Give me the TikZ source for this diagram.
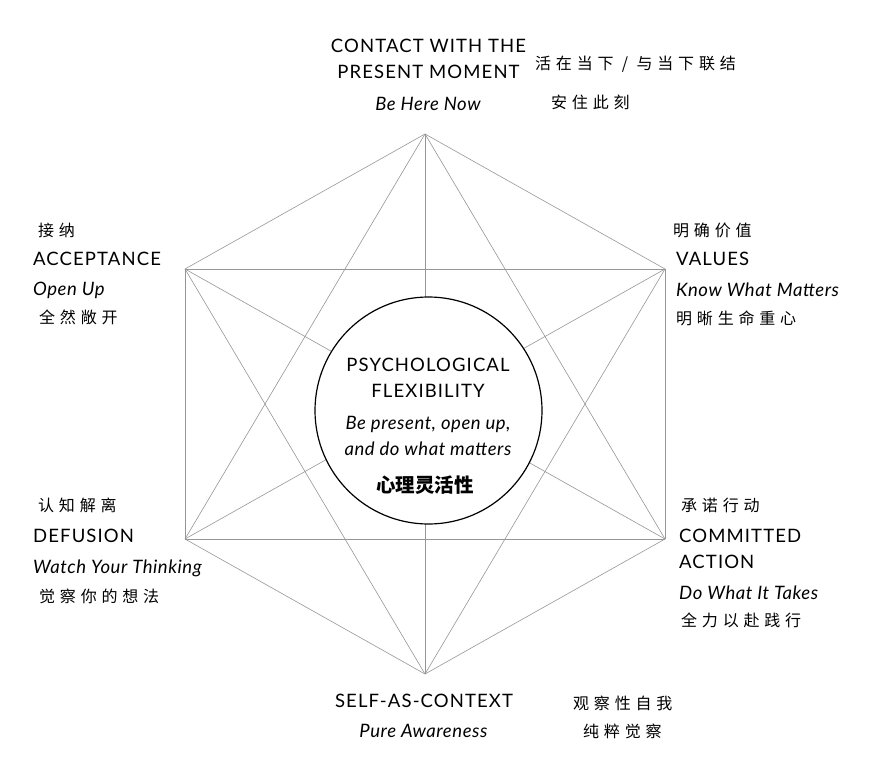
\documentclass[tikz,border=0pt]{standalone}
\usepackage{fontspec}
\setmainfont{Lato}
\newfontfamily\headfont[LetterSpace=6]{Lato}
\newfontfamily\mottofont[LetterSpace=3]{Lato}
\newfontfamily\zhfont[LetterSpace=30]{Noto Sans CJK SC}
\newfontfamily\zhcore{Noto Sans CJK SC}
\usetikzlibrary{positioning}
\definecolor{linegray}{RGB}{150,150,150}
\tikzset{
  heading/.style={font=\fontsize{18.5}{20}\headfont, inner sep=0pt},
  motto/.style={font=\fontsize{18.5}{20}\mottofont\itshape, inner sep=0pt},
  zh/.style={font=\fontsize{16}{18}\zhfont, inner sep=0pt, anchor=west},
  edge/.style={draw=linegray, line width=0.6pt},
}

\begin{document}
\begin{tikzpicture}[x=1pt, y=-1pt]
  \useasboundingbox (0,0) rectangle (891,757);
  % hexagon corners
  \coordinate (t)  at (425,134);
  \coordinate (ur) at (665,269);
  \coordinate (lr) at (665,539);
  \coordinate (b)  at (425,674);
  \coordinate (ll) at (185,539);
  \coordinate (ul) at (185,269);
  % every corner joined to every other one
  \foreach \p/\q in {t/ur, t/lr, t/b, t/ll, t/ul, ur/lr, ur/b, ur/ll, ur/ul,
                     lr/b, lr/ll, lr/ul, b/ll, b/ul, ll/ul}
    \draw[edge] (\p) -- (\q);
  % centre circle
  \node[draw, circle, fill=white, line width=1.2pt, minimum size=227pt] (core) at (428.5,410.5) {};
  \node[heading, anchor=base] (coreA) at (428,371) {PSYCHOLOGICAL};
  \node[heading, anchor=base] (coreB) at (428,397) {FLEXIBILITY};
  \node[motto, anchor=base] (coreC) at (428,429) {Be present, open up,};
  \node[motto, anchor=base] (coreD) at (428,455) {and do what matters};
  \node[font=\fontsize{19.5}{20}\zhcore\bfseries, inner sep=0pt] (coreZh) at (425,485.5) {心理灵活性};
  % top
  \node[heading, anchor=base] (nowA) at (428.5,52.7) {CONTACT WITH THE};
  \node[heading, anchor=base] (nowB) at (428.5,79) {PRESENT MOMENT};
  \node[motto, anchor=base] (nowC) at (428,110.7) {Be Here Now};
  \node[zh] (nowZhA) at (535,64) {活在当下 / 与当下联结};
  \node[zh] (nowZhB) at (551,102.5) {安住此刻};
  % upper left
  \node[zh] (accZhA) at (38,230) {接纳};
  \node[heading, anchor=base west] (accA) at (33,265) {ACCEPTANCE};
  \node[motto, anchor=base west] (accB) at (33,295) {Open Up};
  \node[zh] (accZhB) at (39,317.5) {全然敞开};
  % upper right
  \node[zh] (valZhA) at (673,230.5) {明确价值};
  \node[heading, anchor=base west] (valA) at (676,265) {VALUES};
  \node[motto, anchor=base west] (valB) at (676,296) {Know What Matters};
  \node[zh] (valZhB) at (676,318) {明晰生命重心};
  % lower left
  \node[zh] (defZhA) at (38,505.5) {认知解离};
  \node[heading, anchor=base west] (defA) at (33,542) {DEFUSION};
  \node[motto, anchor=base west] (defB) at (33,573) {Watch Your Thinking};
  \node[zh] (defZhB) at (39,596.5) {觉察你的想法};
  % lower right
  \node[zh] (actZhA) at (681,505) {承诺行动};
  \node[heading, anchor=base west] (actA) at (679,542) {COMMITTED};
  \node[heading, anchor=base west] (actB) at (679,568) {ACTION};
  \node[motto, anchor=base west] (actC) at (679,599) {Do What It Takes};
  \node[zh] (actZhB) at (681,620) {全力以赴践行};
  % bottom
  \node[heading, anchor=base] (selfA) at (424,707) {SELF-AS-CONTEXT};
  \node[motto, anchor=base] (selfB) at (423.5,737) {Pure Awareness};
  \node[zh] (selfZhA) at (573,703) {观察性自我};
  \node[zh] (selfZhB) at (583,731.5) {纯粹觉察};
\end{tikzpicture}
\end{document}
